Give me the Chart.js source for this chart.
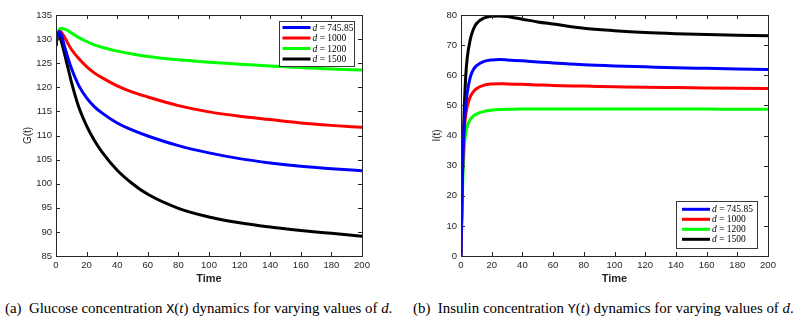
<!DOCTYPE html>
<html>
<head>
<meta charset="utf-8">
<script src="https://cdn.jsdelivr.net/npm/chart.js@4/dist/chart.umd.min.js"></script>
<style>
  html, body { margin: 0; padding: 0; background: #fff; }
  body { width: 803px; height: 323px; position: relative; overflow: hidden; }
  #c1 { position: absolute; left: 0; top: 0; }
  #c2 { position: absolute; left: 400px; top: 0; }
  .cap { position: absolute; top: 300px; font-family: 'Liberation Serif', 'Times New Roman', serif; font-size: 14.9px; color: #000; white-space: nowrap; }
  .tt { font-family: 'Liberation Mono', 'DejaVu Sans Mono', monospace; font-size: 13.5px; }
</style>
</head>
<body>
<canvas id="c1" width="400" height="290"></canvas>
<canvas id="c2" width="403" height="290"></canvas>
<div class="cap" id="capA" style="left:5px;">(a)&nbsp; Glucose concentration <span class="tt">X</span>(<i>t</i>) dynamics for varying values of <i>d</i>.</div>
<div class="cap" id="capB" style="left:413px;">(b)&nbsp; Insulin concentration <span class="tt">Y</span>(<i>t</i>) dynamics for varying values of <i>d</i>.</div>
<script>
// ---- data ----
const times = [0, 1, 2, 3, 4, 6, 8, 10, 15, 20, 25, 30, 40, 50, 60, 80, 100, 120, 140, 160, 180, 200];
const dLabels = ['d = 745.85', 'd = 1000', 'd = 1200', 'd = 1500'];
const seriesColors = ['#0000ff', '#ff0000', '#00ff00', '#000000'];

// Glucose G(t)
const G_d745 = [128.6, 130.8, 131.5, 131.2, 130.3, 128.0, 125.9, 124.0, 120.3, 117.8, 116.0, 114.7, 112.6, 111.1, 109.9, 107.9, 106.4, 105.2, 104.3, 103.6, 103.1, 102.7];
const G_d1000 = [128.6, 130.9, 131.6, 131.6, 131.2, 130.2, 129.0, 127.9, 125.9, 124.3, 123.0, 122.0, 120.3, 119.0, 118.0, 116.2, 114.9, 114.0, 113.3, 112.6, 112.1, 111.7];
const G_d1200 = [128.8, 131.0, 131.9, 132.2, 132.2, 132.0, 131.7, 131.3, 130.3, 129.5, 128.8, 128.3, 127.5, 126.9, 126.4, 125.7, 125.2, 124.8, 124.4, 124.1, 123.8, 123.6];
const G_d1500 = [128.6, 131.2, 130.8, 130.0, 128.9, 126.4, 123.8, 121.2, 115.8, 112.0, 109.0, 106.6, 102.8, 100.0, 97.8, 94.9, 93.1, 91.9, 91.0, 90.3, 89.7, 89.1];

// Insulin I(t)
const I_d745 = [0, 28, 43, 49.5, 54, 59.3, 61.8, 63.1, 64.6, 65.1, 65.2, 65.1, 64.8, 64.4, 64.1, 63.5, 63.1, 62.8, 62.5, 62.3, 62.1, 61.9];
const I_d1000 = [0, 28, 41, 46.5, 49.5, 52.8, 54.5, 55.5, 56.7, 57.1, 57.2, 57.1, 57.0, 56.8, 56.6, 56.4, 56.2, 56.0, 55.9, 55.8, 55.7, 55.6];
const I_d1200 = [0, 22, 35, 40.5, 43, 45.3, 46.4, 47.1, 48.0, 48.4, 48.6, 48.7, 48.8, 48.8, 48.8, 48.8, 48.8, 48.8, 48.8, 48.8, 48.7, 48.7];
const I_d1500 = [0, 30, 47, 59, 65.5, 71.8, 75.2, 77.1, 79.0, 79.6, 79.7, 79.5, 78.6, 77.7, 77.0, 75.6, 74.8, 74.2, 73.8, 73.5, 73.3, 73.1];

// ---- helpers ----
function mkDatasets(arrs) {
  return arrs.map((arr, k) => ({
    label: dLabels[k],
    data: times.map((t, i) => ({ x: t, y: arr[i] })),
    borderColor: seriesColors[k],
    backgroundColor: seriesColors[k],
    borderWidth: 3,
    pointRadius: 0,
    fill: false,
    cubicInterpolationMode: 'monotone'
  }));
}

const frameTicks = {
  id: 'frameTicks',
  afterDraw(chart) {
    const ctx = chart.ctx, a = chart.chartArea;
    const xs = chart.scales.x, ys = chart.scales.y;
    const L = 4;
    ctx.save();
    ctx.strokeStyle = '#262626';
    ctx.lineWidth = 1;
    ctx.beginPath();
    xs.ticks.forEach(t => {
      const p = Math.round(xs.getPixelForValue(t.value)) + 0.5;
      ctx.moveTo(p, a.bottom); ctx.lineTo(p, a.bottom - L);
      ctx.moveTo(p, a.top); ctx.lineTo(p, a.top + L);
    });
    ys.ticks.forEach(t => {
      const p = Math.round(ys.getPixelForValue(t.value)) + 0.5;
      ctx.moveTo(a.left, p); ctx.lineTo(a.left + L, p);
      ctx.moveTo(a.right, p); ctx.lineTo(a.right - L, p);
    });
    ctx.stroke();
    ctx.strokeRect(Math.round(a.left) + 0.5, Math.round(a.top) + 0.5, Math.round(a.right - a.left), Math.round(a.bottom - a.top));
    ctx.restore();
  }
};

const insideLegend = {
  id: 'insideLegend',
  afterDraw(chart, args, o) {
    const ctx = chart.ctx, a = chart.chartArea;
    const w = o.w, h = o.h;
    const x0 = a.right - o.right - w;
    const y0 = o.corner === 'top' ? a.top + o.gap : a.bottom - o.gap - h;
    ctx.save();
    ctx.fillStyle = '#fff';
    ctx.fillRect(x0, y0, w, h);
    ctx.strokeStyle = '#3a3a3a';
    ctx.lineWidth = 1;
    ctx.strokeRect(Math.round(x0) + 0.5, Math.round(y0) + 0.5, Math.round(w), Math.round(h));
    chart.data.datasets.forEach((ds, i) => {
      const cy = y0 + o.first + i * o.step;
      ctx.strokeStyle = ds.borderColor;
      ctx.lineWidth = 3;
      ctx.beginPath();
      ctx.moveTo(x0 + o.lineX, cy);
      ctx.lineTo(x0 + o.lineX + o.lineW, cy);
      ctx.stroke();
      const txt = ds.label;
      const tx = x0 + o.lineX + o.lineW + 2;
      ctx.fillStyle = '#000';
      ctx.textBaseline = 'middle';
      ctx.font = 'italic 9.5px "Liberation Serif", serif';
      const first = txt.charAt(0);
      ctx.fillText(first, tx, cy + 0.5);
      const fw = ctx.measureText(first).width;
      ctx.font = '9.5px "Liberation Serif", serif';
      ctx.fillText(txt.slice(1), tx + fw, cy + 0.5);
    });
    ctx.restore();
  }
};

function mkOptions(cfg) {
  const tickFont = { family: '"Liberation Sans", Arial, sans-serif', size: 9.5 };
  return {
    responsive: false,
    animation: false,
    layout: { padding: { left: 0, top: 15, right: cfg.padRight, bottom: 0 } },
    plugins: {
      legend: { display: false },
      tooltip: { enabled: false },
      insideLegend: cfg.legend
    },
    scales: {
      x: {
        type: 'linear', min: 0, max: 200,
        grid: { display: false, drawTicks: false },
        border: { display: false },
        ticks: { stepSize: 20, color: '#262626', font: tickFont, padding: 4, maxRotation: 0 },
        title: { display: true, text: 'Time', color: '#262626', font: { family: '"Liberation Sans", Arial, sans-serif', size: 11, weight: 'bold' }, padding: { top: 0, bottom: 4 } },
        afterFit(s) { s.height = 34; }
      },
      y: {
        min: cfg.ymin, max: cfg.ymax,
        grid: { display: false, drawTicks: false },
        border: { display: false },
        ticks: { stepSize: cfg.ystep, color: '#262626', font: tickFont, padding: 4 },
        title: { display: true, text: cfg.ytitle, color: '#262626', font: { family: '"Liberation Sans", Arial, sans-serif', size: 10 }, padding: { top: cfg.titlePad, bottom: 0 } },
        afterFit(s) { s.width = cfg.yWidth; }
      }
    }
  };
}

new Chart(document.getElementById('c1'), {
  type: 'line',
  data: { datasets: mkDatasets([G_d745, G_d1000, G_d1200, G_d1500]) },
  options: mkOptions({
    ymin: 85, ymax: 135, ystep: 5, ytitle: 'G(t)', titlePad: 22, yWidth: 56, padRight: 38,
    legend: { corner: 'top', right: 8, gap: 6, w: 75, h: 45, first: 6.5, step: 10.5, lineX: 3.5, lineW: 28 }
  }),
  plugins: [frameTicks, insideLegend]
});

new Chart(document.getElementById('c2'), {
  type: 'line',
  data: { datasets: mkDatasets([I_d745, I_d1000, I_d1200, I_d1500]) },
  options: mkOptions({
    ymin: 0, ymax: 80, ystep: 10, ytitle: 'I(t)', titlePad: 31, yWidth: 61, padRight: 35,
    legend: { corner: 'bottom', right: 11, gap: 8, w: 81, h: 47, first: 8.3, step: 10, lineX: 6, lineW: 28 }
  }),
  plugins: [frameTicks, insideLegend]
});
</script>
</body>
</html>
